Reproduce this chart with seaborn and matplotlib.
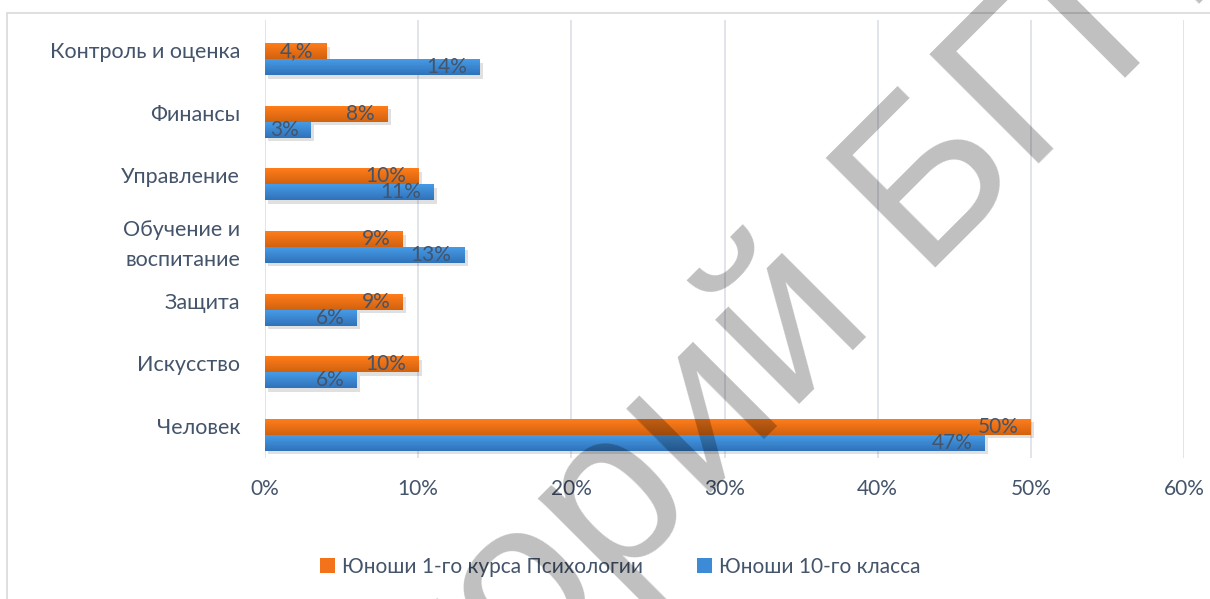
import matplotlib
matplotlib.use("Agg")
import matplotlib.pyplot as plt
import matplotlib.patheffects as pe
from matplotlib.patches import Rectangle
from matplotlib.ticker import FuncFormatter
from matplotlib.transforms import ScaledTranslation
from matplotlib.colors import LinearSegmentedColormap
import numpy as np
import seaborn as sns
import pandas as pd

categories = ["Контроль и оценка", "Финансы", "Управление", "Обучение и\nвоспитание",
              "Защита", "Искусство", "Человек"]
series_names = ["Юноши 1-го курса Психологии", "Юноши 10-го класса"]
psych_values = [4, 8, 10, 9, 9, 10, 50]
class10_values = [14, 3, 11, 13, 6, 6, 47]
psych_labels = ["4,%", "8%", "10%", "9%", "9%", "10%", "50%"]
class10_labels = ["14%", "3%", "11%", "13%", "6%", "6%", "47%"]
x_ticks = [0, 10, 20, 30, 40, 50, 60]
watermark = ["Репозиторий", "БГПУ"]

df = pd.DataFrame({
    "category": categories * 2,
    "series": [series_names[0]] * len(categories) + [series_names[1]] * len(categories),
    "value": psych_values + class10_values,
})

sns.set_theme(style="white")
plt.rcParams["font.family"] = ["Lato", "DejaVu Sans"]
TXT = "#44546A"
ORANGE = "#F2731A"
BLUE = "#3D8AD6"
GRAD = {ORANGE: ("#FF7D1A", "#D2620F"), BLUE: ("#479BE6", "#2F73BA")}

W, H = 1210, 599
fig = plt.figure(figsize=(W / 100, H / 100), dpi=100)
fig.patch.set_facecolor("white")
ax = fig.add_axes([265 / W, 1 - 458 / H, (1184 - 265) / W, (458 - 20) / H])

sns.barplot(data=df, y="category", x="value", hue="series", order=categories,
            hue_order=series_names, palette=[ORANGE, BLUE], orient="h",
            width=0.51, ax=ax, legend=True, saturation=1, linewidth=0)

shift = 0.128
for cont, col in zip(ax.containers, [ORANGE, BLUE]):
    cmap = LinearSegmentedColormap.from_list("g", list(GRAD[col]))
    grad = np.linspace(0, 1, 64).reshape(-1, 1)
    for p in cont:
        p.set_path_effects([pe.SimplePatchShadow(offset=(2.5, -2.5), alpha=0.12, shadow_rgbFace="black"),
                            pe.Normal()])
        x0, y0, w, h = p.get_x(), p.get_y(), p.get_width(), p.get_height()
        im = ax.imshow(grad, cmap=cmap, aspect="auto", extent=(x0, x0 + w, y0 + h, y0),
                       origin="upper", zorder=p.get_zorder() + 0.1, interpolation="bilinear")
        im.set_clip_path(p)

ax.set_xlim(0, 60)
ax.set_ylim(len(categories) - 0.5 - shift, -0.5 - shift)

for cont, labs in zip(ax.containers, [psych_labels, class10_labels]):
    texts = ax.bar_label(cont, labels=labs, padding=-9, fontsize=15, color=TXT)
    for t in texts:
        t.set_ha("right")
        t.set_va("center")
        t.set_zorder(5)

ax.set_xticks(x_ticks)
ax.xaxis.set_major_formatter(FuncFormatter(lambda v, _: f"{int(v)}%"))
ax.set_xlabel("")
ax.set_ylabel("")
ax.grid(axis="x", color="#D9DDE6", linewidth=1.1)
ax.grid(axis="y", visible=False)
ax.set_axisbelow(True)
for s in ax.spines.values():
    s.set_visible(False)
ax.tick_params(axis="x", length=0, pad=15, labelsize=15, labelcolor=TXT)
ax.tick_params(axis="y", length=0, pad=18, labelsize=15.5, labelcolor=TXT)
up = ScaledTranslation(0, 9 / 100, fig.dpi_scale_trans)
for t in ax.get_yticklabels():
    t.set_linespacing(1.6)
    t.set_transform(t.get_transform() + up)

handles, labels = ax.get_legend_handles_labels()
ax.legend_.remove()
fig.legend(handles, labels, loc="center", bbox_to_anchor=(620 / W, 1 - 567 / H),
           ncol=2, frameon=False, fontsize=15, labelcolor=TXT,
           handlelength=0.75, handleheight=0.75, handletextpad=0.3, columnspacing=2.6)

# chart frame
fig.patches.append(Rectangle((7 / W, -0.1), 1.2, 1 - 13 / H + 0.1, transform=fig.transFigure,
                             fill=False, edgecolor="#D9D9D9", linewidth=1.2))

# watermark
fs = 162
kw = dict(fontsize=fs, family="Liberation Sans", color="black", alpha=0.25,
          rotation=45, rotation_mode="anchor", va="baseline", zorder=10)
fig.text(917 / W, 1 - 268 / H, watermark[1], ha="left", **kw)
fig.text(873 / W, 1 - 312 / H, watermark[0], ha="right", **kw)

fig.savefig("out.png", dpi=100)
